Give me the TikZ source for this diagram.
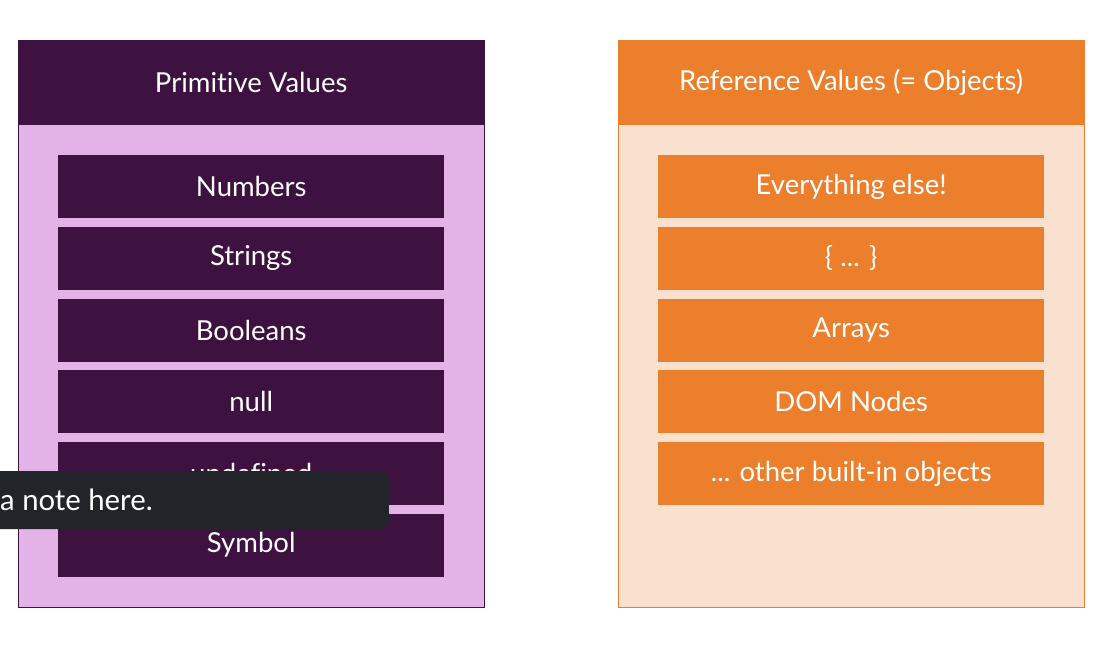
\documentclass[tikz,border=0pt]{standalone}
\usepackage{fontspec}
\setmainfont{Lato}[Ligatures=NoCommon]
\usetikzlibrary{positioning}
\definecolor{primdark}{HTML}{3E1240}
\definecolor{primlight}{HTML}{E3B3E8}
\definecolor{refdark}{HTML}{EC7F2C}
\definecolor{reflight}{HTML}{FAE1CF}
\definecolor{notedark}{HTML}{212529}

\begin{document}
\begin{tikzpicture}[x=1pt,y=-1pt,
   font=\fontsize{27.5}{32}\selectfont,
   panel/.style={anchor=north west,minimum width=466pt,minimum height=567pt,inner sep=0pt},
   head/.style={anchor=north west,minimum width=466pt,minimum height=85pt,inner sep=0pt,text=white},
   item/.style={minimum width=386pt,minimum height=63pt,inner sep=0pt,text=white},
   node distance=8.3pt]
\useasboundingbox (0,0) rectangle (1110,648);
% primitive side
\node[panel,draw=primdark,fill=primlight] (prim) at (18,40) {};
\node[head,fill=primdark] (primhead) at (18,40) {Primitive Values};
\node[item,fill=primdark,below=29.5pt of primhead] (numbers) {Numbers};
\node[item,fill=primdark,below=of numbers] (strings) {Strings};
\node[item,fill=primdark,below=of strings] (booleans) {Booleans};
\node[item,fill=primdark,below=of booleans] (null) {null};
\node[item,fill=primdark,below=of null] (undef) {undefined};
\node[item,fill=primdark,below=of undef] (symbol) {Symbol};
% reference side
\node[panel,draw=refdark,fill=reflight] (refs) at (618,40) {};
\node[head,fill=refdark] (refhead) at (618,40) {Reference Values (= Objects)};
\node[item,fill=refdark,below=29.5pt of refhead] (else) {Everything else!};
\node[item,fill=refdark,below=of else] (objs) {\{ ... \}};
\node[item,fill=refdark,below=of objs] (arrays) {Arrays};
\node[item,fill=refdark,below=of arrays] (dom) {DOM Nodes};
\node[item,fill=refdark,below=of dom] (builtin) {... other built-in objects};
% tooltip
\node[fill=notedark,rounded corners=8pt,anchor=north east,minimum width=420pt,minimum height=58pt] (note) at (389,471) {};
\node[anchor=west,inner sep=0pt,text=white,font=\fontsize{29.3}{34}\selectfont] (notetext) at (0,500) {a note here.};
\end{tikzpicture}
\end{document}
